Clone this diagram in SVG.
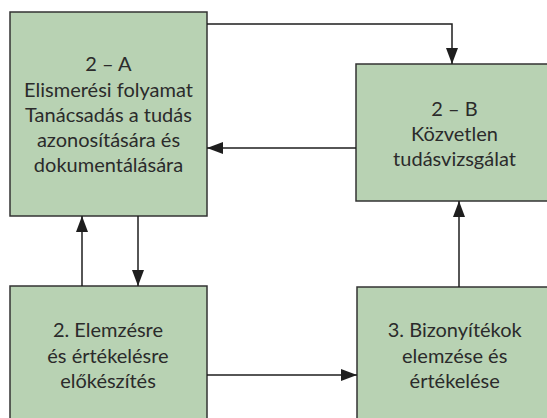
<svg xmlns="http://www.w3.org/2000/svg" width="547" height="418" viewBox="0 0 547 418">
<style>
.box{fill:#b8d2b3;stroke:#333;stroke-width:1.5}
.lbl{font-family:Lato,"Liberation Sans",sans-serif;font-size:20px;fill:#2b2b2b;text-anchor:middle}
.con{fill:none;stroke:#1e1e1e;stroke-width:1.5}
</style>
<defs>
<marker id="ah" markerUnits="userSpaceOnUse" markerWidth="16" markerHeight="12" refX="16" refY="6" orient="auto">
<path d="M0,0 L16,6 L0,12 z" fill="#1e1e1e"/>
</marker>
</defs>
<rect width="547" height="418" fill="#fff"/>
<g id="nodeA">
<rect class="box" x="10" y="12" width="197" height="204"/>
<text class="lbl" x="108.5" y="71">2 – A</text>
<text class="lbl" x="108.5" y="96.5">Elismerési folyamat</text>
<text class="lbl" x="108.5" y="121.7">Tanácsadás a tudás</text>
<text class="lbl" x="108.5" y="146.8">azonosítására és</text>
<text class="lbl" x="108.5" y="172">dokumentálására</text>
</g>
<g id="nodeB">
<rect class="box" x="356" y="64" width="200" height="137"/>
<text class="lbl" x="454.5" y="116">2 – B</text>
<text class="lbl" x="454.5" y="140.5">Közvetlen</text>
<text class="lbl" x="454.5" y="165.5">tudásvizsgálat</text>
</g>
<g id="nodeC">
<rect class="box" x="10" y="286" width="197" height="140"/>
<text class="lbl" x="108" y="337">2. Elemzésre</text>
<text class="lbl" x="108" y="362.5">és értékelésre</text>
<text class="lbl" x="108" y="387.7">előkészítés</text>
</g>
<g id="nodeD">
<rect class="box" x="357" y="287" width="200" height="140"/>
<text class="lbl" x="454.7" y="337">3. Bizonyítékok</text>
<text class="lbl" x="454.7" y="362.5">elemzése és</text>
<text class="lbl" x="454.7" y="387.7">értékelése</text>
</g>
<g id="connectors">
<path class="con" d="M207,24 H452 V64" marker-end="url(#ah)"/>
<path class="con" d="M356,148 H207" marker-end="url(#ah)"/>
<path class="con" d="M138,216 V286" marker-end="url(#ah)"/>
<path class="con" d="M82,286 V216" marker-end="url(#ah)"/>
<path class="con" d="M207,375 H357" marker-end="url(#ah)"/>
<path class="con" d="M459,287 V201" marker-end="url(#ah)"/>
</g>
</svg>
